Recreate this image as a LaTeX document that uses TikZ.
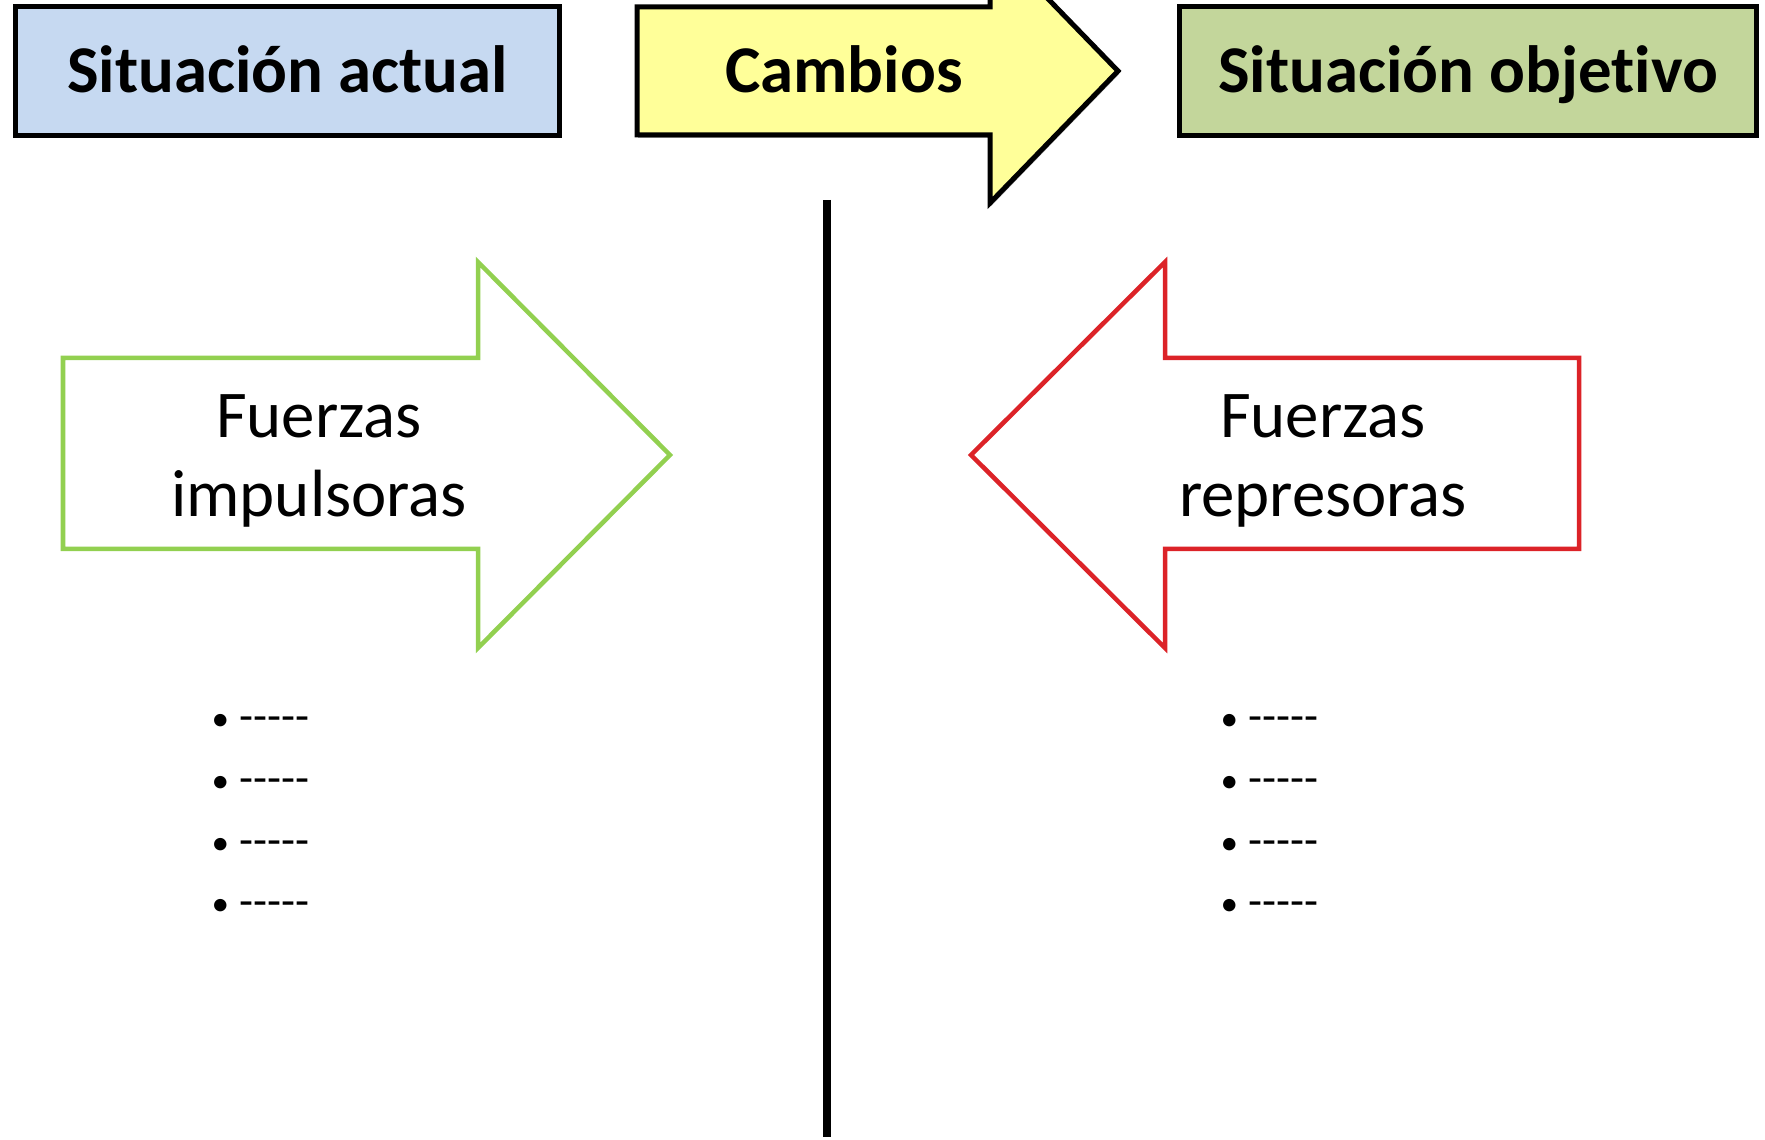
\documentclass[tikz,border=0pt]{standalone}
\usepackage{fontspec}
\setmainfont{Carlito}[Ligatures={TeX,NoCommon}]
\usepackage{tikz}
\usetikzlibrary{shadows}

\definecolor{azulcaja}{HTML}{C6D9F1}
\definecolor{amarillo}{HTML}{FFFF99}
\definecolor{oliva}{HTML}{C3D69B}
\definecolor{verdeflecha}{HTML}{92D050}
\definecolor{rojoflecha}{HTML}{DC2328}

\newcommand{\rayas}{-\kern0pt-\kern0pt-\kern0pt-\kern0pt-}
\newcommand{\vineta}{{\fontsize{10}{12}\selectfont\raisebox{0.3pt}{\textbullet}}}

\begin{document}
\begin{tikzpicture}[x=0.01cm,y=-0.01cm]
\tikzstyle{sombra}=[drop shadow={shadow xshift=0.012cm, shadow yshift=-0.03cm, fill=black!70}]
\tikzstyle{titulo}=[inner sep=0pt, text height=12.5pt, text depth=0pt, font=\fontsize{19}{23}\selectfont\bfseries]
\tikzstyle{caja}=[titulo, draw, line width=0.05cm, sombra, minimum height=1.28cm]
\tikzstyle{contorno}=[line width=0.045cm, line join=miter, fill=white]
\tikzstyle{rotulo}=[align=center, inner sep=0pt, font=\fontsize{19}{22.5}\selectfont]
\tikzstyle{punto}=[anchor=west, inner sep=0pt, font=\fontsize{13}{15}\selectfont]
\useasboundingbox (0,0) rectangle (1765,1140);
\clip (0,0) rectangle (1765,1140);

% cabecera
\node[caja, fill=azulcaja, minimum width=5.43cm] (actual) at (287.5,71) {Situación actual};
\draw[line width=0.05cm, fill=amarillo, sombra] (637,7) -- (990,7) -- (990,-61) -- (1118,71) -- (990,203) -- (990,135) -- (637,135) -- cycle;
\node[titulo] (cambios) at (844,71) {Cambios};
\node[caja, fill=oliva, minimum width=5.76cm] (objetivo) at (1468,71) {Situación objetivo};

% linea central
\coordinate (arriba) at (827,200);
\coordinate (abajo) at (827,1137);
\draw[line width=0.08cm] (arriba) -- (abajo);

% fuerzas
\draw[contorno, draw=verdeflecha] (63,358) -- (478,358) -- (478,262) -- (670,455) -- (478,648) -- (478,549) -- (63,549) -- cycle;
\node[rotulo] (impulsoras) at (319,461) {Fuerzas\\impulsoras};
\draw[contorno, draw=rojoflecha] (1579,358) -- (1165,358) -- (1165,262) -- (971,455) -- (1165,648) -- (1165,549) -- (1579,549) -- cycle;
\node[rotulo] (represoras) at (1323,461) {Fuerzas\\represoras};

% listas
\foreach \i/\y in {1/723,2/785,3/847,4/908} {
  \node[punto] (izq\i) at (211,\y) {\vineta\hspace{3pt}\rayas};
  \node[punto] (der\i) at (1220,\y) {\vineta\hspace{3pt}\rayas};
}
\end{tikzpicture}
\end{document}
